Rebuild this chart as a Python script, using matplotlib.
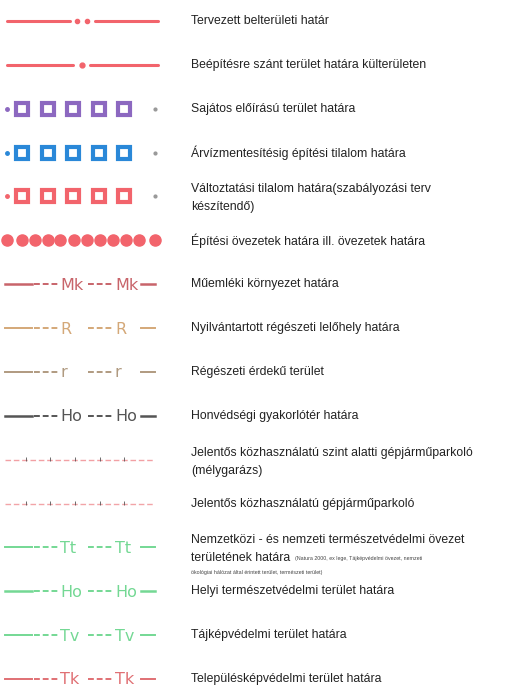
import matplotlib
matplotlib.use("Agg")
import matplotlib.pyplot as plt
import numpy as np

# legend rows (top to bottom)
labels = [
    "Tervezett belterületi határ",
    "Beépítésre szánt terület határa külterületen",
    "Sajátos előírású terület határa",
    "Árvízmentesítésig építési tilalom határa",
    "Változtatási tilalom határa(szabályozási terv\nkészítendő)",
    "Építési övezetek határa ill. övezetek határa",
    "Műemléki környezet határa",
    "Nyilvántartott régészeti lelőhely határa",
    "Régészeti érdekű terület",
    "Honvédségi gyakorlótér határa",
    "Jelentős közhasználatú szint alatti gépjárműparkoló\n(mélygarázs)",
    "Jelentős közhasználatú gépjárműparkoló",
    "Nemzetközi - és nemzeti természetvédelmi övezet\nterületének határa",
    "Helyi természetvédelmi terület határa",
    "Tájképvédelmi terület határa",
    "Településképvédelmi terület határa",
]
kinds = ["line2dot", "line1dot", "squares", "squares", "squares", "circles",
         "code", "code", "code", "code", "parking", "parking",
         "code", "code", "code", "code"]
colors = ["#f2646c", "#f2646c", "#8c68c0", "#2a88d8", "#f2646c", "#f2646c",
          "#c8646a", "#d4a878", "#b09a80", "#555555", "#f2a0a4", "#f2a4a8",
          "#74d894", "#74d894", "#74d894", "#e07074"]
codes = ["", "", "", "", "", "", "Mk", "R", "r", "Ho", "", "", "Tt", "Ho", "Tv", "Tk"]
note_1 = "(Natura 2000, ex lege, Tájképvédelmi övezet, nemzeti"
note_2 = "ökológiai hálózat által érintett terület, természeti terület)"

plt.rcParams["font.family"] = ["Liberation Sans", "DejaVu Sans"]

fig = plt.figure(figsize=(5.11, 6.92), dpi=100)
ax = fig.add_axes([0, 0, 1, 1])
ax.set_xlim(0, 511)
ax.set_ylim(692, 0)
ax.axis("off")

ys = np.linspace(21, 679, len(labels))
lw = 2.2

for i, (lab, kind, col, code) in enumerate(zip(labels, kinds, colors, codes)):
    y = ys[i]
    if kind == "line2dot":
        ax.plot([7, 70], [y, y], color=col, lw=lw, solid_capstyle="round")
        ax.plot([77, 87], [y, y], "o", color=col, ms=3)
        ax.plot([95, 158], [y, y], color=col, lw=lw, solid_capstyle="round")
    elif kind == "line1dot":
        ax.plot([7, 73], [y, y], color=col, lw=lw, solid_capstyle="round")
        ax.plot([82], [y], "o", color=col, ms=3.5)
        ax.plot([90, 158], [y, y], color=col, lw=lw, solid_capstyle="round")
    elif kind == "squares":
        ax.plot([7], [y], "o", color=col, ms=2.5)
        ax.plot([22, 47.5, 73, 98.5, 124], [y] * 5, "s", mfc="white", mec=col, ms=8, mew=3)
        ax.plot([155], [y], "o", color="#999999", ms=2)
    elif kind == "circles":
        xs = [7, 22, 35, 48, 60, 74, 87, 100, 113, 126, 139, 155]
        ax.plot(xs, [y] * len(xs), "o", color=col, ms=8)
    elif kind == "parking":
        ax.plot([5, 155], [y, y], color=col, lw=1.0, ls=(0, (4, 2)))
        ax.plot([26, 50, 75, 100, 124], [y - 1] * 5, "|", color="#555555", ms=3, mew=0.6)
    elif kind == "code":
        heavy = code in ("Ho", "Mk")
        ax.plot([5, 32], [y, y], color=col, lw=1.8 if heavy else 1.4)
        ax.plot([34, 58], [y, y], color=col, lw=1.4, ls=(0, (3, 1.5)))
        ax.text(60, y + 1, code, color=col, fontsize=11.5, ha="left", va="center",
                family="DejaVu Sans")
        ax.plot([88, 113], [y, y], color=col, lw=1.4, ls=(0, (3, 1.5)))
        ax.text(115, y + 1, code, color=col, fontsize=11.5, ha="left", va="center",
                family="DejaVu Sans")
        ax.plot([141, 155], [y, y], color=col, lw=1.8 if heavy else 1.4)

    # each label line as its own text object
    lines = lab.split("\n")
    if len(lines) == 1:
        ax.text(191, y, lab, fontsize=8.8, color="#222222", ha="left", va="center")
    else:
        for k, ln in enumerate(lines):
            ax.text(191, y - 7 + 18 * k, ln, fontsize=8.8, color="#222222",
                    ha="left", va="center")

# tiny explanatory note after "területének határa"
y13 = ys[12]
ax.text(295, y13 + 11, note_1, fontsize=3.8, color="#444444", ha="left", va="center")
ax.text(191, y13 + 25, note_2, fontsize=3.8, color="#444444", ha="left", va="center")

fig.savefig("out.png", dpi=100)
